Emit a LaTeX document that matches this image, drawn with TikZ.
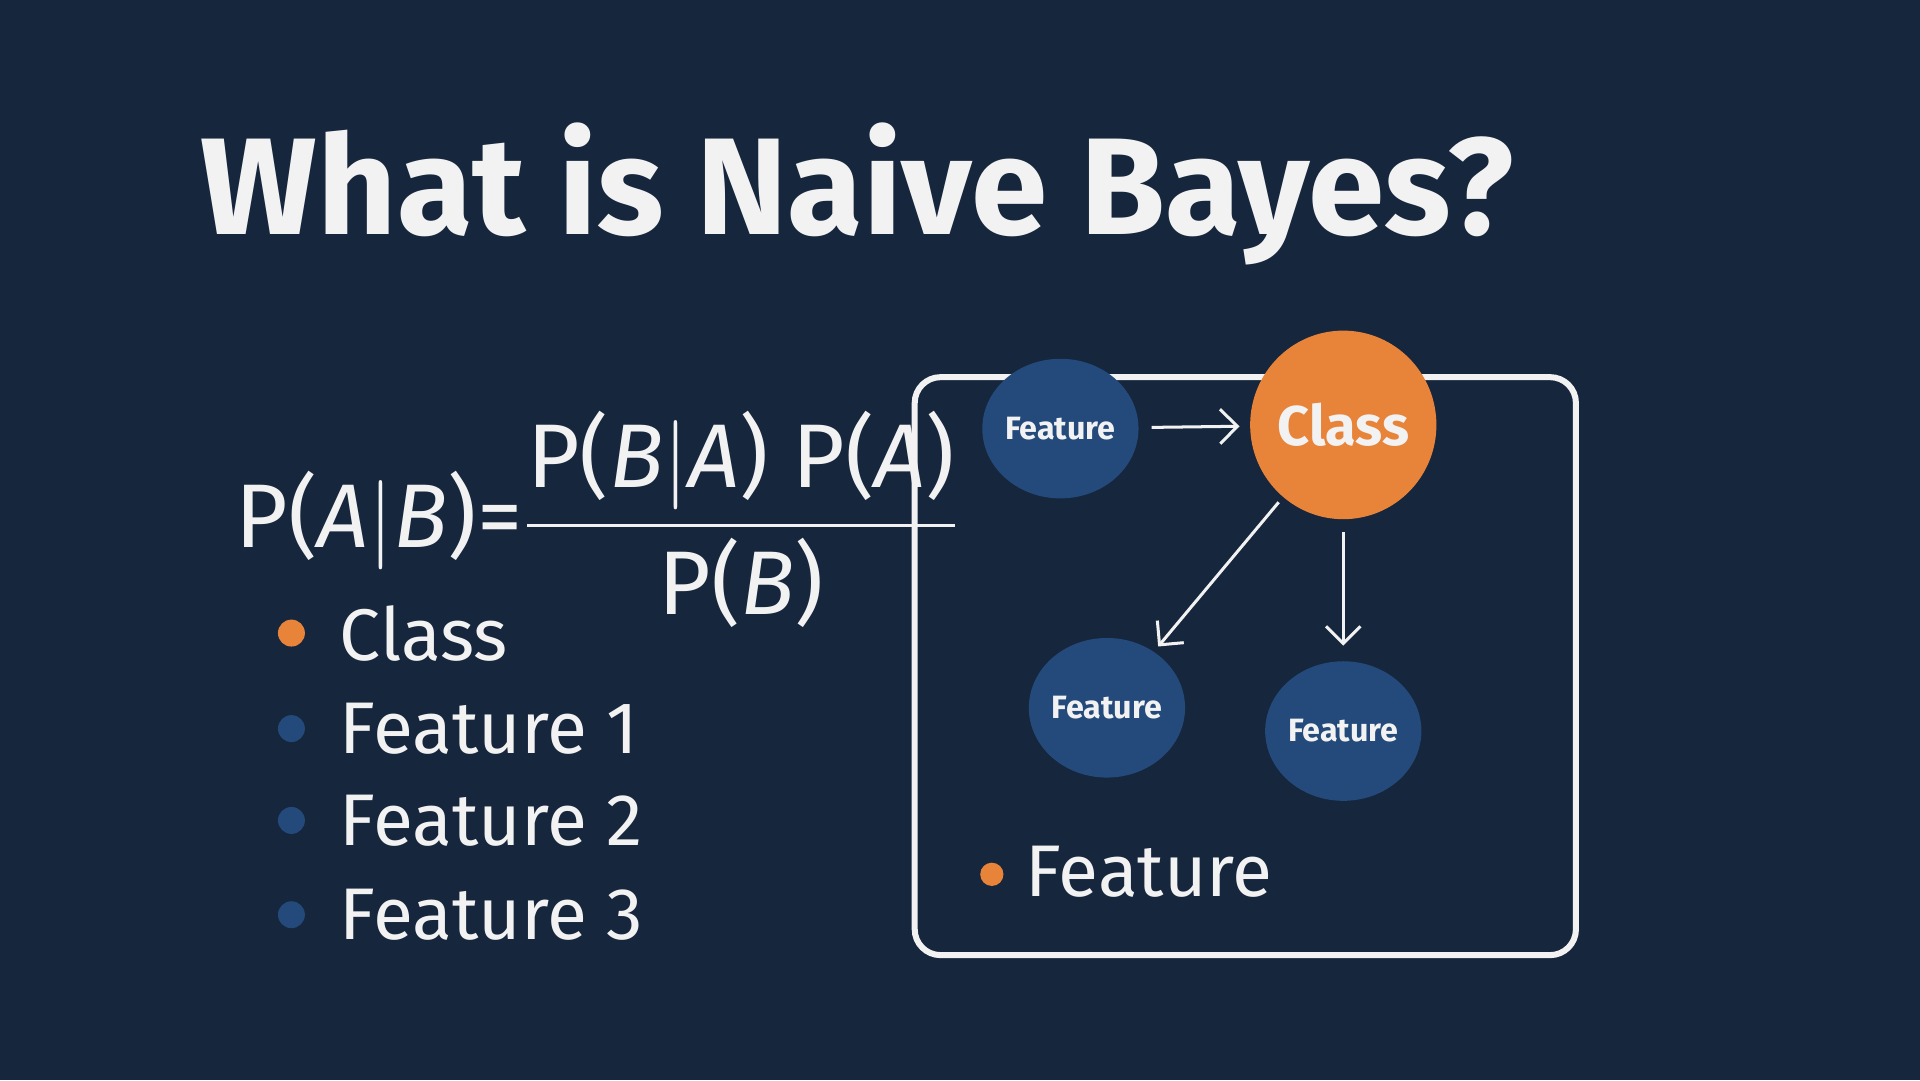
\documentclass[tikz,border=0pt]{standalone}
\usepackage{amsmath}
\usepackage{fontspec}
\setmainfont{Fira Sans}
\usetikzlibrary{shapes.geometric,arrows.meta}
\definecolor{bgnavy}{HTML}{16263D}
\definecolor{featblue}{HTML}{234A7A}
\definecolor{classorange}{HTML}{E8833A}
\definecolor{txtwhite}{HTML}{F2F2F2}
\tikzset{
  featnode/.style={ellipse, fill=featblue, minimum width=1.04cm, minimum height=1.14cm, inner sep=0pt, text=txtwhite, font=\fontsize{7.5pt}{9pt}\selectfont\bfseries},
  classnode/.style={ellipse, fill=classorange, minimum width=1.4cm, minimum height=1.54cm, inner sep=0pt, text=txtwhite, font=\fontsize{13pt}{15pt}\selectfont\bfseries},
  flow/.style={txtwhite, line width=0.7pt, -{Straight Barb[length=4pt,width=8pt]}},
  bulletdot/.style={circle, inner sep=0pt, minimum size=0.22cm},
  bullettext/.style={anchor=west, text=txtwhite, font=\fontsize{17pt}{20pt}\selectfont}
}
\begin{document}
\begin{tikzpicture}
  \fill[bgnavy] (0,0) rectangle (15.68,8.82);
  \useasboundingbox (0,0) rectangle (15.68,8.82);

  % title and formula
  \node[text=txtwhite, font=\fontsize{32pt}{36pt}\selectfont\bfseries] (title) at (7.0,7.24) {What is Naive Bayes?};
  \node[text=txtwhite, font=\fontsize{21pt}{24pt}\selectfont, anchor=west] (formula) at (1.8,4.58)
    {P($\mathit{A}|\mathit{B}$)=$\dfrac{\text{P(}\mathit{B}|\mathit{A}\text{) P(}\mathit{A}\text{)}}{\text{P(}\mathit{B}\text{)}}$};

  % bullet list
  \node[bulletdot, fill=classorange] (dot1) at (2.38,3.65) {};
  \node[bullettext] (item1) at (2.65,3.65) {Class};
  \foreach \i/\y in {2/2.87, 3/2.12, 4/1.35} {
    \node[bulletdot, fill=featblue] (dot\i) at (2.38,\y) {};
  }
  \node[bullettext] (item2) at (2.65,2.87) {Feature 1};
  \node[bullettext] (item3) at (2.65,2.12) {Feature 2};
  \node[bullettext] (item4) at (2.65,1.35) {Feature 3};

  % graph box
  \draw[txtwhite, line width=1.4pt, rounded corners=6pt] (7.47,1.02) rectangle (12.87,5.74);
  \node[featnode] (featA) at (8.66,5.32) {Feature};
  \node[classnode] (cls) at (10.97,5.35) {Class};
  \node[featnode] (featB) at (9.04,3.04) {Feature};
  \node[featnode] (featC) at (10.97,2.85) {Feature};
  \draw[flow, shorten <=0.1cm, shorten >=0.08cm] (featA) -- (cls);
  \draw[flow, shorten <=0.05cm, shorten >=0.05cm] (cls) -- (featB);
  \draw[flow, shorten <=0.1cm, shorten >=0.12cm] (cls) -- (featC);

  % legend
  \node[bulletdot, fill=classorange, minimum size=0.19cm] (legdot) at (8.1,1.68) {};
  \node[bullettext] (legtext) at (8.25,1.70) {Feature};
\end{tikzpicture}
\end{document}
